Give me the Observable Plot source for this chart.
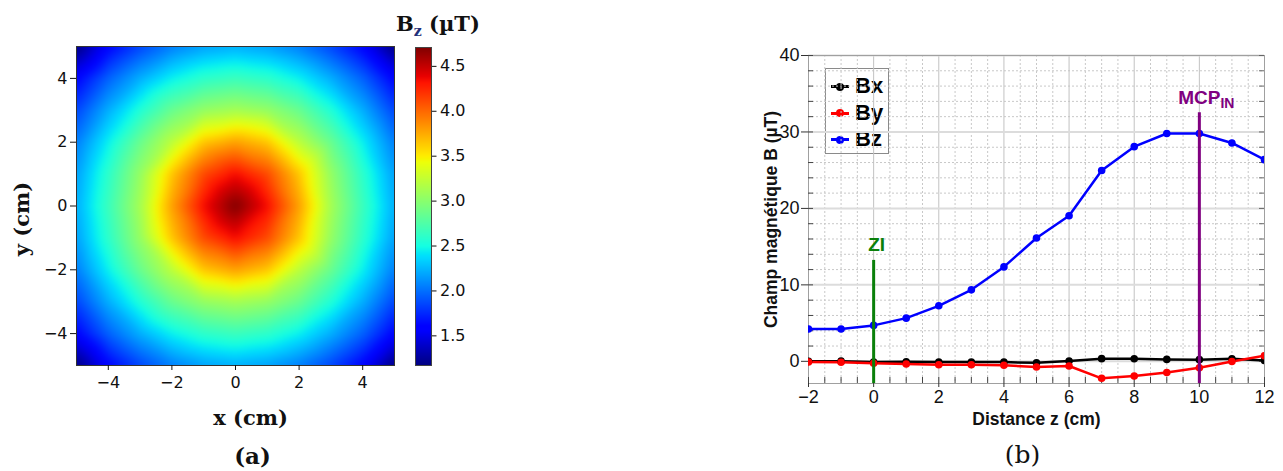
<!DOCTYPE html>
<html>
<head>
<meta charset="utf-8">
<script src="https://cdn.jsdelivr.net/npm/d3@7"></script>
<script src="https://cdn.jsdelivr.net/npm/@observablehq/plot@0.6"></script>
<style>
  html, body { margin: 0; padding: 0; background: #fff; }
  #root { position: relative; width: 1283px; height: 471px; overflow: hidden; background: #fff; }
  #root svg { position: absolute; top: 0; }
  #bzTitle { position: absolute; left: 396px; top: 13px; font-family: "DejaVu Serif"; font-weight: bold; font-size: 21px; line-height: 21px; color: #111; white-space: nowrap; }
  #bzTitle sub { font-size: 14px; color: #22307a; vertical-align: -5px; }
  #legend { position: absolute; left: 825px; top: 68px; width: 62px; height: 84px; border: 1.5px solid #8a8a8a; background: #fff; }
  .lg-row { position: absolute; left: 0; height: 26px; width: 62px; }
  .lg-line { position: absolute; left: 5px; top: 12px; width: 18px; height: 3px; }
  .lg-dot { position: absolute; left: 10px; top: 9.5px; width: 8px; height: 8px; border-radius: 50%; }
  .lg-text { position: absolute; left: 29px; top: 0; line-height: 26px; font-family: "Liberation Sans"; font-weight: bold; font-size: 22px; color: #000; }
</style>
</head>
<body>
<div id="root">
  <div id="bzTitle">B<sub>z</sub> (µT)</div>
  <div id="legend"></div>
</div>
<script>
// ---------------- DATA ----------------
// (a) Bz map (µT), sampled on a 1 cm grid, rows from y = 5 (top) to y = -5 (bottom)
const gridX = [-5, -4, -3, -2, -1, 0, 1, 2, 3, 4, 5];
const gridY = [5, 4, 3, 2, 1, 0, -1, -2, -3, -4, -5];
const bzGrid = [
  [1.17, 1.60, 1.85, 2.05, 2.17, 2.22, 2.17, 2.05, 1.85, 1.60, 1.17],
  [1.60, 1.95, 2.22, 2.45, 2.60, 2.66, 2.60, 2.45, 2.22, 1.95, 1.60],
  [1.85, 2.22, 2.55, 2.86, 3.05, 3.12, 3.05, 2.86, 2.55, 2.22, 1.85],
  [2.05, 2.45, 2.86, 3.22, 3.65, 3.79, 3.65, 3.22, 2.86, 2.45, 2.05],
  [2.17, 2.60, 3.05, 3.65, 4.12, 4.35, 4.12, 3.65, 3.05, 2.60, 2.17],
  [2.22, 2.66, 3.12, 3.79, 4.35, 4.71, 4.35, 3.79, 3.12, 2.66, 2.22],
  [2.17, 2.60, 3.05, 3.65, 4.12, 4.35, 4.12, 3.65, 3.05, 2.60, 2.17],
  [2.05, 2.45, 2.86, 3.22, 3.65, 3.79, 3.65, 3.22, 2.86, 2.45, 2.05],
  [1.85, 2.22, 2.55, 2.86, 3.05, 3.12, 3.05, 2.86, 2.55, 2.22, 1.85],
  [1.60, 1.95, 2.22, 2.45, 2.60, 2.66, 2.60, 2.45, 2.22, 1.95, 1.60],
  [1.17, 1.60, 1.85, 2.05, 2.17, 2.22, 2.17, 2.05, 1.85, 1.60, 1.17]
];
const bzColorDomain = [1.17, 4.71];
const heatTicks = [-4, -2, 0, 2, 4];
const colorbarTicks = [1.5, 2.0, 2.5, 3.0, 3.5, 4.0, 4.5];

// (b) field components along z
const zPos = [-2, -1, 0, 1, 2, 3, 4, 5, 6, 7, 8, 9, 10, 11, 12];
const bxVals = [0.0, 0.02, -0.1, -0.05, -0.1, -0.1, -0.1, -0.2, 0.05, 0.35, 0.33, 0.25, 0.22, 0.33, 0.12];
const byVals = [-0.09, -0.13, -0.26, -0.35, -0.44, -0.44, -0.52, -0.74, -0.61, -2.22, -1.92, -1.46, -0.85, -0.02, 0.74];
const bzVals = [4.22, 4.22, 4.7, 5.65, 7.26, 9.35, 12.35, 16.13, 19.04, 24.96, 28.08, 29.8, 29.8, 28.56, 26.38];
const seriesNames = ["Bx", "By", "Bz"];
const markerLabels = ["ZI", "MCP"];
const markerSubs = ["", "IN"];
const markerZ = [0, 10];
const markerTop = [13.2, 32.5];
const zDomain = [-2, 12];
const bDomain = [-2.9, 40];
const zTicks = [-2, 0, 2, 4, 6, 8, 10, 12];
const bTicks = [0, 10, 20, 30, 40];
const zMinorStep = 0.5;
const bMinorStep = 2;

// ---------------- STYLE ----------------
const jetT = [0, 0.11, 0.125, 0.34, 0.35, 0.375, 0.64, 0.65, 0.66, 0.89, 0.91, 1];
const jetC = ["#000080", "#0000ff", "#0000ff", "#00dbff", "#00e5f8", "#14ffe3", "#eeff08", "#f7f500", "#ffec00", "#ff1300", "#e80000", "#800000"];
const seriesColors = ["#000000", "#ff0000", "#0000ff"];
const markerColors = ["#0a800a", "#800080"];

const root = document.getElementById("root");
const colorScale = {
  type: "linear",
  domain: jetT.map(t => bzColorDomain[0] + t * (bzColorDomain[1] - bzColorDomain[0])),
  range: jetC,
  interpolate: "rgb",
  clamp: true
};

// ---------------- (a) heat map ----------------
const heatData = gridY.flatMap((y, i) => gridX.map((x, j) => ({x, y, v: bzGrid[i][j]})));
const serif = "DejaVu Serif";
const heat = Plot.plot({
  width: 400, height: 471,
  marginLeft: 76, marginRight: 6, marginTop: 46, marginBottom: 106,
  x: {domain: d3.extent(gridX), axis: null},
  y: {domain: d3.extent(gridY), axis: null},
  color: colorScale,
  style: {fontFamily: "DejaVu Sans", fontSize: "16px", background: "transparent", overflow: "visible", color: "#111"},
  marks: [
    Plot.raster(heatData, {
      x: "x", y: "y", fill: "v", interpolate: "barycentric",
      x1: d3.min(gridX), x2: d3.max(gridX), y1: d3.min(gridY), y2: d3.max(gridY),
      pixelSize: 1, blur: 3
    }),
    Plot.frame({stroke: "#333", strokeWidth: 1}),
    Plot.axisX(heatTicks, {anchor: "bottom", tickSize: 5, tickPadding: 6, fontSize: 16, label: null}),
    Plot.axisY(heatTicks, {anchor: "left", tickSize: 6, tickPadding: 3, fontSize: 16, label: null}),
    Plot.text(["x (cm)"], {text: d => d, frameAnchor: "bottom", dx: 15, dy: 53, lineAnchor: "middle", textAnchor: "middle", fontFamily: serif, fontWeight: "bold", fontSize: 21}),
    Plot.text(["y (cm)"], {text: d => d, frameAnchor: "left", dx: -54, dy: 13, rotate: -90, lineAnchor: "middle", textAnchor: "middle", fontFamily: serif, fontWeight: "bold", fontSize: 21}),
    Plot.text(["(a)"], {text: d => d, frameAnchor: "bottom", dx: 17, dy: 91, lineAnchor: "middle", textAnchor: "middle", fontFamily: serif, fontWeight: "bold", fontSize: 23})
  ]
});
heat.style.left = "0px";
root.appendChild(heat);

// colour bar
const cbar = Plot.plot({
  width: 100, height: 471,
  marginLeft: 15, marginRight: 69, marginTop: 47, marginBottom: 106,
  x: {domain: [0, 1], axis: null},
  y: {domain: bzColorDomain, axis: null},
  color: colorScale,
  style: {fontFamily: "DejaVu Sans", fontSize: "16px", background: "transparent", overflow: "visible", color: "#111"},
  marks: [
    Plot.raster({fill: (x, y) => y, x1: 0, x2: 1, y1: bzColorDomain[0], y2: bzColorDomain[1], pixelSize: 1}),
    Plot.frame({stroke: "#444", strokeWidth: 1}),
    Plot.axisY(colorbarTicks, {anchor: "right", tickSize: 4.5, tickPadding: 4, fontSize: 16, label: null, tickFormat: d3.format(".1f")})
  ]
});
cbar.style.left = "400px";
root.appendChild(cbar);

// ---------------- (b) profiles ----------------
const lineData = zPos.flatMap((z, i) => [
  {z, b: bxVals[i], s: seriesNames[0]},
  {z, b: byVals[i], s: seriesNames[1]},
  {z, b: bzVals[i], s: seriesNames[2]}
]);
const zMinor = d3.range(zDomain[0], zDomain[1] + 1e-9, zMinorStep).filter(v => !zTicks.includes(v));
const bAll = d3.range(0, bDomain[1] + 1e-9, bMinorStep);
const bMinor = bAll.filter(v => !bTicks.includes(v));
const W = 543, H = 471, mL = 68, mR = 19, mT = 55, mB = 88;
const fW = W - mL - mR, fH = H - mT - mB;
const markers = markerZ.map((z, i) => ({z, top: markerTop[i], label: markerLabels[i], sub: markerSubs[i]}));
const sans = "Liberation Sans";

const prof = Plot.plot({
  width: W, height: H,
  marginLeft: mL, marginRight: mR, marginTop: mT, marginBottom: mB,
  x: {domain: zDomain, axis: null},
  y: {domain: bDomain, axis: null},
  color: {domain: seriesNames, range: seriesColors},
  style: {fontFamily: sans, fontSize: "17px", background: "transparent", overflow: "visible", color: "#111"},
  marks: [
    Plot.gridX(zMinor, {stroke: "#c8c8c8", strokeOpacity: 1, strokeDasharray: "2,2"}),
    Plot.gridY(bMinor, {stroke: "#c8c8c8", strokeOpacity: 1, strokeDasharray: "2,2"}),
    Plot.gridX(zTicks, {stroke: "#c2c2c2", strokeOpacity: 1}),
    Plot.gridY(bTicks, {stroke: "#dcdcdc", strokeOpacity: 1, strokeWidth: 2}),
    Plot.frame({stroke: "#a0a0a0"}),
    Plot.tickX(zMinor.concat(zTicks), {x: d => d, insetTop: fH - 6, stroke: "#444"}),
    Plot.tickY(bAll, {y: d => d, insetRight: fW - 5, stroke: "#444"}),
    Plot.tickY(bAll, {y: d => d, insetLeft: fW - 5, stroke: "#666"}),
    Plot.axisX(zTicks, {anchor: "bottom", tickSize: 4, tickPadding: 3, fontSize: 18, label: null, line: true, stroke: "#333"}),
    Plot.axisY(bTicks, {anchor: "left", tickSize: 7, tickPadding: 2, fontSize: 18, label: null, line: true, stroke: "#333"}),
    Plot.line(lineData, {x: "z", y: "b", z: "s", stroke: "s", strokeWidth: 2.5, clip: true}),
    Plot.dot(lineData, {x: "z", y: "b", fill: "s", r: 3.8, clip: true}),
    ...markers.map((m, i) => Plot.ruleX([m], {x: "z", y1: bDomain[0], y2: "top", stroke: markerColors[i], strokeWidth: 3})),
    ...markers.map((m, i) => Plot.text([m], {x: "z", y: "top", text: "label", dx: i === 0 ? 3 : 7, dy: -15, fill: markerColors[i], fontWeight: "bold", fontSize: 19, lineAnchor: "middle", textAnchor: "middle"})),
    Plot.text(["Distance z (cm)"], {text: d => d, frameAnchor: "bottom", dy: 36, lineAnchor: "middle", textAnchor: "middle", fontWeight: "bold", fontSize: 17.5}),
    Plot.text(["Champ magnétique B (µT)"], {text: d => d, frameAnchor: "left", dx: -37, rotate: -90, lineAnchor: "middle", textAnchor: "middle", fontWeight: "bold", fontSize: 17.5}),
    Plot.text(["(b)"], {text: d => d, frameAnchor: "bottom", dx: -14, dy: 71, lineAnchor: "middle", textAnchor: "middle", fontFamily: serif, fontSize: 25})
  ]
});
prof.style.left = "740px";
// add subscripts to marker labels
d3.select(prof).selectAll("text").each(function() {
  const idx = markerLabels.indexOf(this.textContent);
  if (idx >= 0 && markerSubs[idx]) {
    d3.select(this).append("tspan").attr("font-size", 14).attr("dy", 4).text(markerSubs[idx]);
  }
});
root.appendChild(prof);

// legend
const legend = document.getElementById("legend");
seriesNames.forEach((name, i) => {
  const row = document.createElement("div");
  row.className = "lg-row";
  row.style.top = (4 + i * 26.5) + "px";
  row.innerHTML = `<div class="lg-line" style="background:${seriesColors[i]}"></div>` +
    `<div class="lg-dot" style="background:${seriesColors[i]}"></div>` +
    `<div class="lg-text">${name}</div>`;
  legend.appendChild(row);
});
</script>
</body>
</html>
